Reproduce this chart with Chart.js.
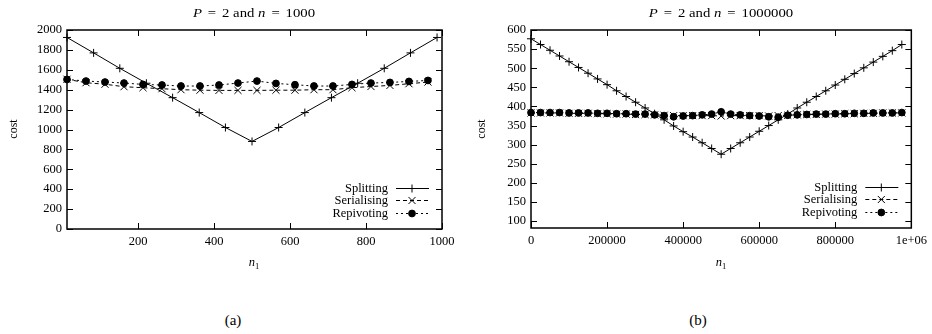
<!DOCTYPE html>
<html><head><meta charset="utf-8">
<script src="https://cdn.jsdelivr.net/npm/chart.js@4/dist/chart.umd.min.js"></script>
<style>
html,body{margin:0;padding:0;background:#fff;}
#wrap{position:relative;width:932px;height:334px;background:#fff;overflow:hidden;font-family:"Liberation Serif","DejaVu Serif",serif;color:#000;}
.cv{position:absolute;top:0;width:466px;height:260px;}
.lbl{position:absolute;white-space:nowrap;transform:translate(-50%,-50%);}
.title{font-size:12.5px;transform:translate(-50%,-50%) scaleX(1.18);}
.title span.sp{display:inline-block;width:5px;}
.rot{transform:translate(-50%,-50%) rotate(-90deg);font-size:12px;}
.xl{font-size:12.5px;}
.cap{font-size:15px;}
</style>
</head><body>
<div id="wrap">
  <div class="cv" style="left:0"><canvas id="c1" width="466" height="260"></canvas></div>
  <div class="cv" style="left:466px"><canvas id="c2" width="466" height="260"></canvas></div>
  <div class="lbl title" style="left:254px;top:13px"><i>P</i><span class="sp"></span>=<span class="sp"></span>2 and <i>n</i><span class="sp"></span>=<span class="sp"></span>1000</div>
  <div class="lbl title" style="left:721px;top:13px"><i>P</i><span class="sp"></span>=<span class="sp"></span>2 and <i>n</i><span class="sp"></span>=<span class="sp"></span>1000000</div>
  <div class="lbl rot" style="left:13px;top:129px">cost</div>
  <div class="lbl rot" style="left:481px;top:129px">cost</div>
  <div class="lbl xl" style="left:254px;top:263px"><i>n</i><sub style="font-size:8.5px">1</sub></div>
  <div class="lbl xl" style="left:721px;top:263px"><i>n</i><sub style="font-size:8.5px">1</sub></div>
  <div class="lbl cap" style="left:233px;top:320px">(a)</div>
  <div class="lbl cap" style="left:698px;top:320px">(b)</div>
</div>
<script>
// ---------- data: chart (a) P = 2, n = 1000 ----------
const leftSplitX = [13, 83, 152, 222, 291, 361, 430, 500, 570, 639, 709, 778, 848, 917, 987];
const leftSplitting = [1925, 1770, 1615, 1465, 1320, 1170, 1020, 880, 1020, 1170, 1320, 1465, 1615, 1770, 1925];
const leftOtherX = [13, 63, 113, 163, 213, 263, 313, 363, 413, 463, 513, 563, 613, 663, 713, 763, 813, 863, 913, 963];
const leftSerialising = [1505, 1470, 1455, 1430, 1420, 1410, 1400, 1395, 1393, 1393, 1393, 1395, 1395, 1400, 1400, 1420, 1432, 1443, 1460, 1477];
const leftRepivoting = [1503, 1487, 1477, 1467, 1453, 1447, 1437, 1437, 1447, 1467, 1487, 1463, 1450, 1437, 1437, 1453, 1467, 1473, 1483, 1493];
const leftXTicks = [200, 400, 600, 800, 1000];
const leftYTicks = [0, 200, 400, 600, 800, 1000, 1200, 1400, 1600, 1800, 2000];

// ---------- data: chart (b) P = 2, n = 1000000 ----------
const rightX = [0, 25000, 50000, 75000, 100000, 125000, 150000, 175000, 200000, 225000,
  250000, 275000, 300000, 325000, 350000, 375000, 400000, 425000, 450000, 475000,
  500000, 525000, 550000, 575000, 600000, 625000, 650000, 675000, 700000, 725000,
  750000, 775000, 800000, 825000, 850000, 875000, 900000, 925000, 950000, 975000];
const rightSplitting = [577, 562, 547, 532, 517, 502, 487, 472, 457, 441,
  426, 411, 396, 381, 365, 349, 334, 320, 305, 290,
  275, 290, 305, 320, 335, 350, 365, 380, 396, 411,
  426, 441, 456, 471, 486, 501, 516, 531, 546, 562];
const rightSerialising = [383, 383, 383, 383, 382, 382, 382, 381, 381, 380,
  380, 379, 379, 378, 377, 376, 376, 376, 376, 376,
  375, 376, 376, 376, 376, 375, 376, 377, 378, 379,
  379, 380, 380, 381, 381, 382, 382, 383, 383, 383];
const rightRepivoting = [384, 384, 384, 384, 383, 383, 383, 382, 382, 381,
  381, 380, 380, 378, 376, 373, 375, 376, 378, 380,
  386, 380, 378, 376, 375, 373, 372, 377, 378, 379,
  380, 380, 381, 381, 382, 382, 383, 383, 383, 384];
const rightXTicks = [0, 200000, 400000, 600000, 800000, 1000000];
const rightYTicks = [100, 150, 200, 250, 300, 350, 400, 450, 500, 550, 600];

const seriesNames = ['Splitting', 'Serialising', 'Repivoting'];

const FONT = {family: '"Liberation Serif", "DejaVu Serif", serif', size: 12.5};

function pts(xs, ys){ return xs.map((x, i) => ({x: x, y: ys[i]})); }

const styles = [
  {borderDash: [], pointStyle: 'cross', pointRadius: 4, order: 2},
  {borderDash: [4, 3], pointStyle: 'crossRot', pointRadius: 5, order: 1},
  {borderDash: [2, 3], pointStyle: 'circle', pointRadius: 3.4, order: 0}
];

function makeDatasets(list){
  return list.map((d, i) => ({
    label: seriesNames[i],
    data: pts(d[0], d[1]),
    borderColor: '#000',
    backgroundColor: '#000',
    pointBackgroundColor: '#000',
    pointBorderColor: '#000',
    borderWidth: 1,
    pointBorderWidth: 1,
    borderDash: styles[i].borderDash,
    pointStyle: styles[i].pointStyle,
    pointRadius: styles[i].pointRadius,
    pointHoverRadius: styles[i].pointRadius,
    order: styles[i].order,
    fill: false,
    tension: 0,
    clip: false
  }));
}

const gnuFrame = {
  id: 'gnuFrame',
  beforeDatasetsDraw(chart){
    const {ctx, chartArea: a, scales: {x, y}} = chart;
    ctx.save();
    ctx.strokeStyle = '#000';
    ctx.lineWidth = 1;
    ctx.beginPath();
    x.ticks.forEach(t => {
      const px = Math.round(x.getPixelForValue(t.value)) + 0.5;
      ctx.moveTo(px, a.bottom); ctx.lineTo(px, a.bottom - 6);
      ctx.moveTo(px, a.top); ctx.lineTo(px, a.top + 6);
    });
    y.ticks.forEach(t => {
      const py = Math.round(y.getPixelForValue(t.value)) + 0.5;
      ctx.moveTo(a.left, py); ctx.lineTo(a.left + 6, py);
      ctx.moveTo(a.right, py); ctx.lineTo(a.right - 6, py);
    });
    ctx.stroke();
    ctx.lineWidth = 1.5;
    ctx.strokeRect(a.left, a.top, a.right - a.left, a.bottom - a.top);
    ctx.restore();
  },
  afterDatasetsDraw(chart){
    const {ctx, chartArea: a} = chart;
    const rows = [a.bottom - 41, a.bottom - 29, a.bottom - 16];
    ctx.save();
    ctx.font = '12.5px "Liberation Serif", "DejaVu Serif", serif';
    ctx.fillStyle = '#000';
    ctx.strokeStyle = '#000';
    ctx.textAlign = 'right';
    ctx.textBaseline = 'middle';
    chart.data.datasets.forEach((ds, i) => {
      const yy = rows[i] + 0.5;
      ctx.fillText(ds.label, a.right - 54, yy);
      ctx.lineWidth = 1;
      ctx.setLineDash(ds.borderDash);
      ctx.beginPath();
      ctx.moveTo(a.right - 46, yy); ctx.lineTo(a.right - 13, yy);
      ctx.stroke();
      ctx.setLineDash([]);
      Chart.helpers.drawPoint(ctx, {pointStyle: ds.pointStyle, radius: ds.pointRadius, borderWidth: 1, rotation: 0}, a.right - 30, yy);
    });
    ctx.restore();
  }
};

function makeChart(id, datasets, xr, yr, xTicks, yTicks, yWidth, xHeight, padRight, xFmt){
  return new Chart(document.getElementById(id), {
    type: 'line',
    data: {datasets: datasets},
    options: {
      responsive: false,
      devicePixelRatio: 1,
      animation: false,
      events: [],
      layout: {padding: {left: 0, right: padRight, top: 30, bottom: 0}},
      plugins: {legend: {display: false}, tooltip: {enabled: false}, title: {display: false}},
      scales: {
        x: {
          type: 'linear', min: xr[0], max: xr[1],
          grid: {display: false, drawTicks: false},
          border: {display: false},
          ticks: {color: '#000', font: FONT, padding: 5, maxRotation: 0, autoSkip: false, callback: xFmt},
          afterBuildTicks: s => { s.ticks = xTicks.map(v => ({value: v})); },
          afterFit: s => { s.height = xHeight; }
        },
        y: {
          type: 'linear', min: yr[0], max: yr[1],
          grid: {display: false, drawTicks: false},
          border: {display: false},
          ticks: {color: '#000', font: FONT, padding: 5, autoSkip: false, callback: v => String(v)},
          afterBuildTicks: s => { s.ticks = yTicks.map(v => ({value: v})); },
          afterFit: s => { s.width = yWidth; }
        }
      }
    },
    plugins: [gnuFrame]
  });
}

makeChart('c1',
  makeDatasets([[leftSplitX, leftSplitting], [leftOtherX, leftSerialising], [leftOtherX, leftRepivoting]]),
  [13, 1000], [0, 2000], leftXTicks, leftYTicks, 67, 31, 24, v => String(v));

makeChart('c2',
  makeDatasets([[rightX, rightSplitting], [rightX, rightSerialising], [rightX, rightRepivoting]]),
  [0, 1000000], [82, 600], rightXTicks, rightYTicks, 65, 32, 20, v => (v === 1000000 ? '1e+06' : String(v)));
</script>
</body></html>
